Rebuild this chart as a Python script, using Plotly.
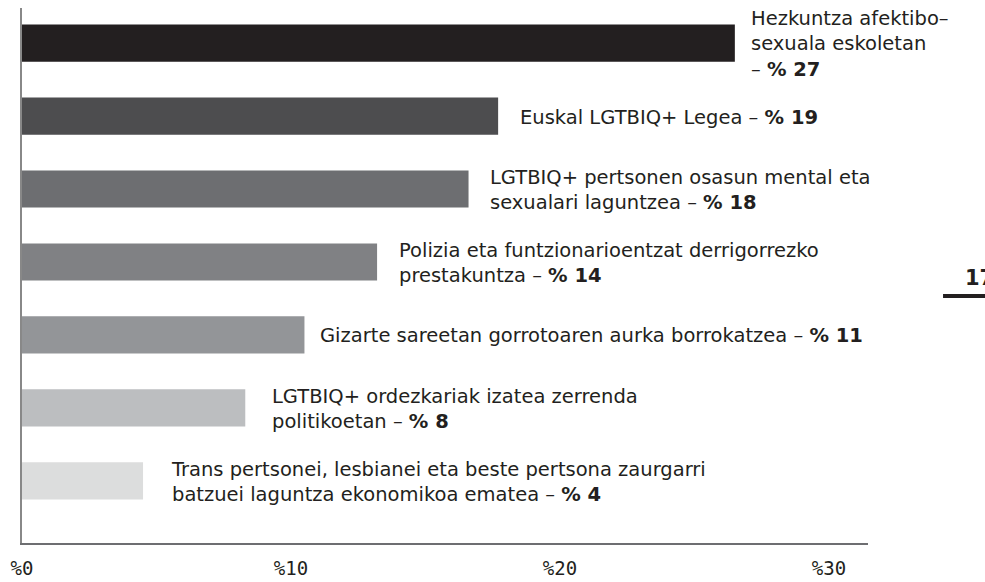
import plotly.graph_objects as go

categories = [
    "Hezkuntza afektibo–<br>sexuala eskoletan<br>",
    "Euskal LGTBIQ+ Legea",
    "LGTBIQ+ pertsonen osasun mental eta<br>sexualari laguntzea",
    "Polizia eta funtzionarioentzat derrigorrezko<br>prestakuntza",
    "Gizarte sareetan gorrotoaren aurka borrokatzea",
    "LGTBIQ+ ordezkariak izatea zerrenda<br>politikoetan",
    "Trans pertsonei, lesbianei eta beste pertsona zaurgarri<br>batzuei laguntza ekonomikoa ematea",
]
values = [26.5, 17.7, 16.6, 13.2, 10.5, 8.3, 4.5]
value_labels = ["27", "19", "18", "14", "11", "8", "4"]
colors = ["#231f20", "#4d4d4f", "#6d6e71", "#808184", "#939598", "#bcbec0", "#dcdddd"]
tick_vals = [0, 10, 20, 30]
tick_text = ["%0", "%10", "%20", "%30"]

positions = list(range(len(categories)))

fig = go.Figure()
fig.add_trace(go.Bar(
    x=values, y=positions, orientation="h",
    marker=dict(color=colors, line=dict(width=0)),
    width=0.51, hoverinfo="skip",
))

font_main = "DejaVu Sans"
xshifts = [14, 20, 19, 20, 14, 25, 26]
for i, (cat, v, lab) in enumerate(zip(categories, values, value_labels)):
    if cat.endswith("<br>"):
        text = f"{cat}– <b>% {lab}</b>"
    else:
        text = f"{cat} – <b>% {lab}</b>"
    fig.add_annotation(
        x=v, y=i, xref="x", yref="y", text=text, showarrow=False,
        xanchor="left", yanchor="middle", align="left", xshift=xshifts[i], yshift=-1,
        font=dict(family=font_main, size=19.5, color="#231f20"),
    )

# cut-off page marker at right edge
fig.add_annotation(
    x=1.112, y=0.496, xref="paper", yref="paper", text="<b>17</b>", showarrow=False,
    xanchor="left", yanchor="middle", font=dict(family=font_main, size=21, color="#231f20"),
)
fig.add_shape(type="line", xref="paper", yref="paper", x0=1.0887, x1=1.25, y0=0.4617, y1=0.4617,
              line=dict(color="#231f20", width=4))

fig.update_layout(
    width=985, height=582,
    margin=dict(l=22, r=117, t=8, b=39, autoexpand=False),
    paper_bgcolor="white", plot_bgcolor="white",
    showlegend=False,
    xaxis=dict(range=[0, 31.45], tickvals=tick_vals, ticktext=tick_text, showgrid=False,
               zeroline=False, showline=True, linecolor="#6d6e71", linewidth=1.5, ticks="",
               automargin=False,
               tickfont=dict(family="DejaVu Sans Mono", size=19, color="#231f20"), ticklabelstandoff=7),
    yaxis=dict(range=[6.85, -0.48], showticklabels=False, showgrid=False, zeroline=False,
               automargin=False,
               showline=True, linecolor="#888888", linewidth=1.5, ticks=""),
)

fig.write_html(
    "out.html",
    config={"displayModeBar": False},
    post_script="document.body.style.margin='0';document.body.style.overflow='hidden';",
)
